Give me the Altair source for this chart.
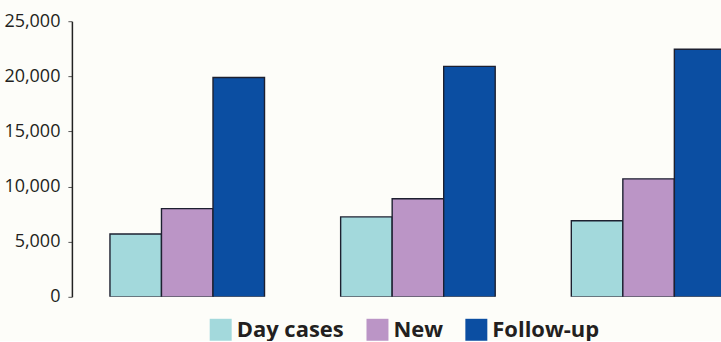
import altair as alt
import pandas as pd

groups = ["Group 1", "Group 2", "Group 3"]
series = ["Day cases", "New", "Follow-up"]
day_cases = [5700, 7250, 6900]
new_pat = [8000, 8900, 10700]
follow_up = [19900, 20900, 22450]
colors = ["#a3d9dc", "#bb95c6", "#0b4ea2"]
y_ticks = [0, 5000, 10000, 15000, 20000, 25000]

rows = []
for i, g in enumerate(groups):
    for s, vals in zip(series, [day_cases, new_pat, follow_up]):
        rows.append({"group": g, "series": s, "value": vals[i]})
df = pd.DataFrame(rows)

chart = alt.Chart(df).mark_bar(clip=True, stroke="#1d2030", strokeWidth=1.4).encode(
    x=alt.X("group:N", sort=groups, axis=None,
            scale=alt.Scale(range=[0, 693], paddingInner=0.33, paddingOuter=0.165)),
    xOffset=alt.XOffset("series:N", sort=series,
                        scale=alt.Scale(domain=series, paddingInner=0, paddingOuter=0)),
    y=alt.Y("value:Q", title=None,
            scale=alt.Scale(domain=[0, 25000], nice=False),
            axis=alt.Axis(values=y_ticks, format=",.0f", grid=False, domainColor="#222",
                          domainWidth=1.5, tickColor="#555", tickSize=4,
                          labelFont="Open Sans", labelFontSize=18, labelColor="#231f20",
                          labelPadding=8)),
    color=alt.Color("series:N", sort=series,
                    scale=alt.Scale(domain=series, range=colors),
                    legend=alt.Legend(title=None, orient="none", legendX=138, legendY=298,
                                      direction="horizontal",
                                      symbolType="square", symbolSize=484,
                                      symbolStrokeWidth=0, symbolOpacity=1,
                                      labelFont="Open Sans", labelFontSize=22,
                                      labelFontWeight="bold", labelColor="#231f20",
                                      labelOffset=5, columnPadding=22, padding=0,
                                      labelLimit=300)),
).properties(
    width=650, height=276,
    padding={"left": 3, "top": 12, "right": 0, "bottom": 0},
    background="#fdfdf9",
).configure_view(stroke=None)

chart.save("out.html", embed_options={"renderer": "svg", "actions": False})
